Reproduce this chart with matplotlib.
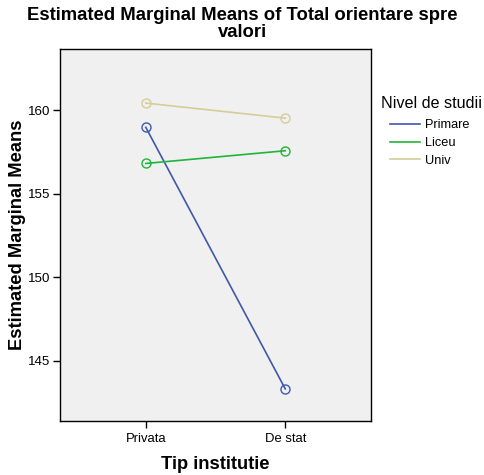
import matplotlib
matplotlib.use("Agg")
import matplotlib.pyplot as plt
from matplotlib.lines import Line2D

plt.rcParams["font.family"] = ["Liberation Sans", "DejaVu Sans"]

categories = ["Privata", "De stat"]
primare = [158.97, 143.33]
liceu = [156.81, 157.57]
univ = [160.42, 159.52]
series_names = ["Primare", "Liceu", "Univ"]
colors = ["#3E58AC", "#1FB53A", "#D4CE98"]

fig = plt.figure(figsize=(4.84, 4.75), dpi=100)
ax = fig.add_axes([0.124, 0.1137, 0.6426, 0.783])
ax.set_facecolor("#F0F0F0")

x = list(range(len(categories)))
for vals, name, c in zip([primare, liceu, univ], series_names, colors):
    ax.plot(x, vals, color=c, lw=1.2, marker="o", markersize=6.5,
            markerfacecolor="none", markeredgecolor=c, markeredgewidth=1.0)

ax.set_xlim(-0.615, 1.615)
ax.set_ylim(141.41, 163.65)
ax.set_xticks(x)
ax.set_xticklabels(categories, fontsize=9.4)
ax.set_yticks([145, 150, 155, 160])
ax.tick_params(axis="y", labelsize=9.6, length=5, width=1, pad=2)
ax.tick_params(axis="x", length=5, width=1)
for s in ax.spines.values():
    s.set_linewidth(1)

ax.set_xlabel("Tip institutie", fontsize=13.2, fontweight="bold", labelpad=8)
ax.set_ylabel("Estimated Marginal Means", fontsize=13.2, fontweight="bold", labelpad=1)

fig.text(0.5, 0.986, "Estimated Marginal Means of Total orientare spre\nvalori",
         ha="center", va="top", fontsize=13.3, fontweight="bold", linespacing=1.05)

# legend title placed separately (SPSS indents entries relative to the title)
fig.text(381 / 484, 1 - 104 / 475, "Nivel de studii", fontsize=11.6,
         ha="left", va="center")
handles = [Line2D([0], [0], color=c, lw=1.2) for c in colors]
leg = fig.legend(handles, series_names, loc="upper left",
                 bbox_to_anchor=(0.805, 0.749), frameon=False, fontsize=9.2,
                 handlelength=2.35, handletextpad=0.45,
                 labelspacing=0.45, borderpad=0.0, borderaxespad=0.0)

fig.savefig("out.png", dpi=100)
